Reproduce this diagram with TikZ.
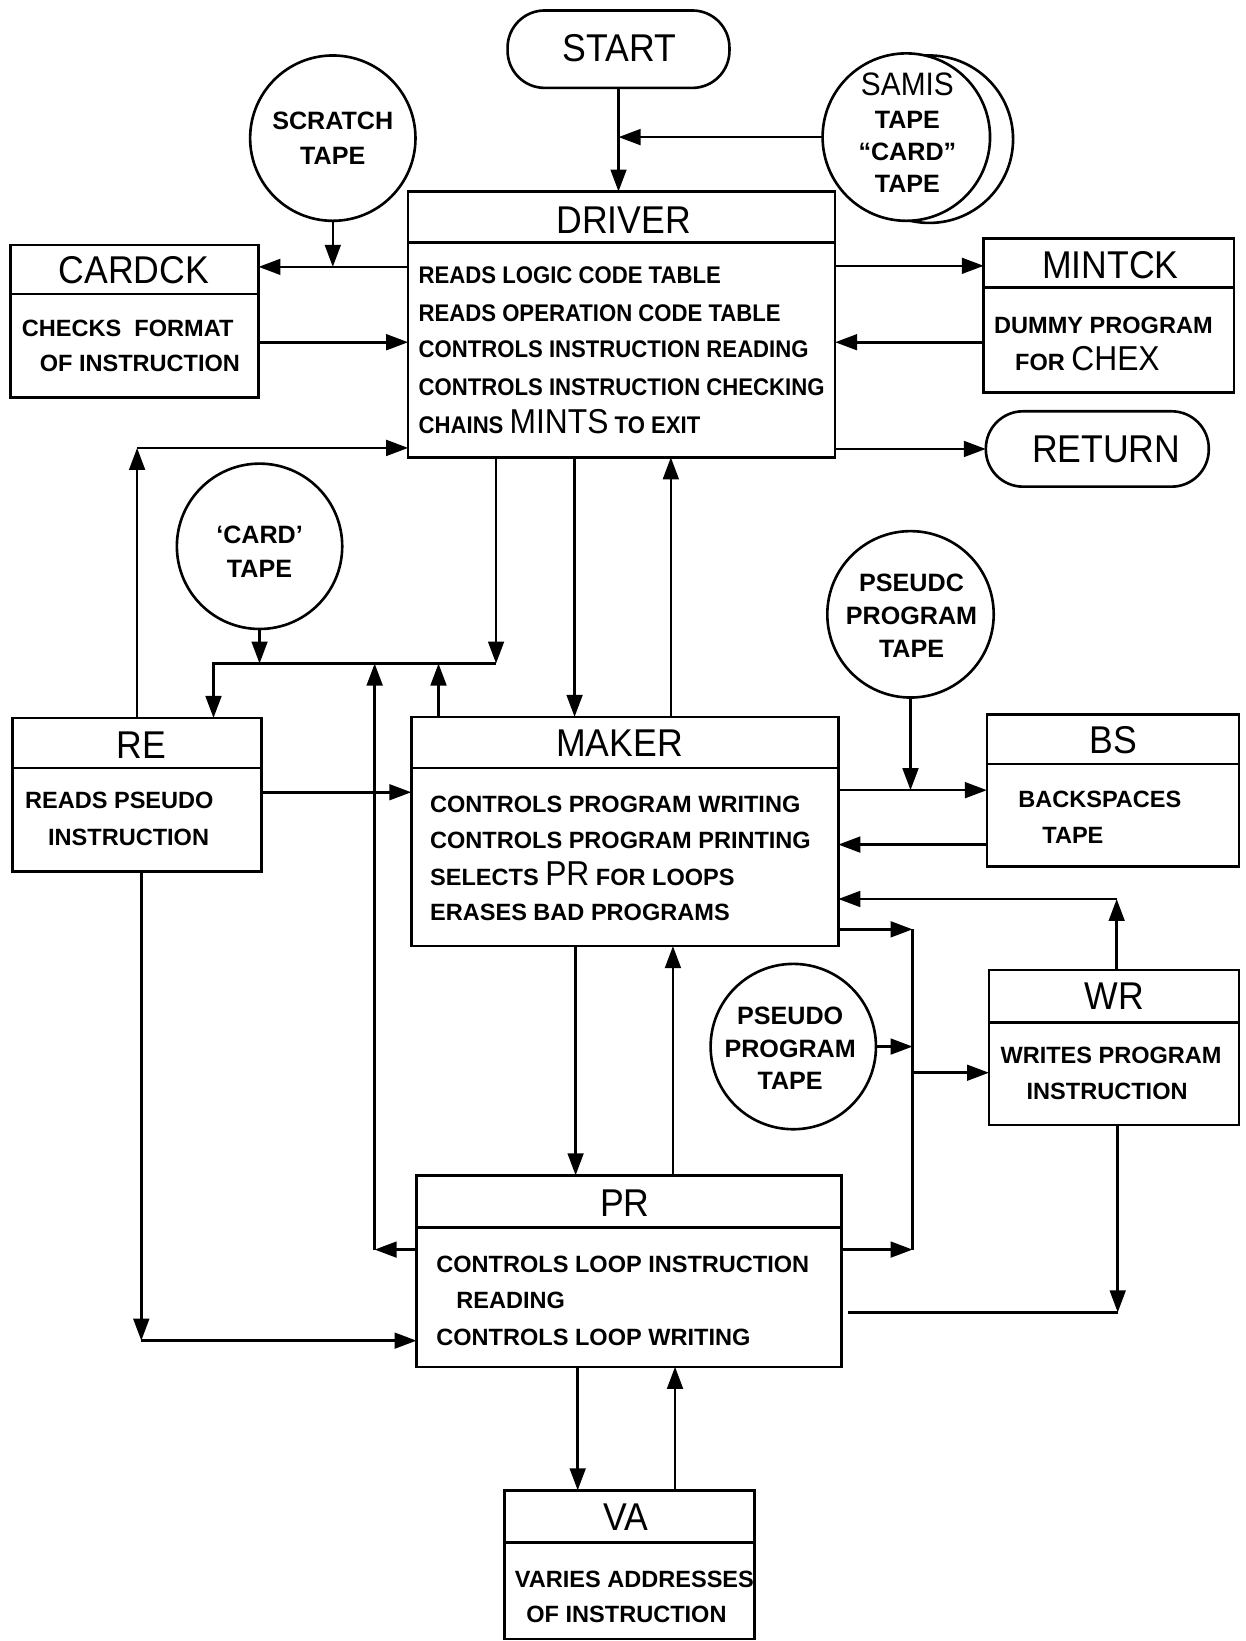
\documentclass[tikz,border=0pt]{standalone}
\usepackage{fontspec}
\setmainfont{Liberation Sans}
\newfontfamily\titlef{Liberation Sans}[FakeStretch=0.92]
\newfontfamily\drvf{Liberation Sans}[FakeStretch=0.92]
\usetikzlibrary{arrows.meta}

\tikzset{
  every node/.style={inner sep=0pt, outer sep=0pt},
  pbox/.style={draw, line width=2.5pt, rectangle},
  term/.style={draw, line width=2.5pt, rectangle, rounded corners=35.5pt},
  tape/.style={draw, line width=2.5pt, circle, fill=white},
  ttl/.style={font=\titlef\fontsize{37}{37}\selectfont},
  bod/.style={font=\bfseries\fontsize{22.5}{22.5}\selectfont, anchor=base west},
  dbod/.style={font=\drvf\bfseries\fontsize{23}{23}\selectfont, anchor=base west},
  ctx/.style={font=\bfseries\fontsize{24}{32}\selectfont, align=center},
  ln/.style={line width=2.5pt},
  arr/.style={line width=2.5pt, -{Triangle[length=21pt,width=15pt]}},
}

\newcommand\procbox[6]{%
  \node[pbox, minimum width={(#4-#2)*1pt}, minimum height={(#5-#3)*1pt}] (#1) at ({(#2+#4)/2},{(#3+#5)/2}) {};
  \draw[ln] (#2,#6) -- (#4,#6);}
\newcommand\bodyline[4]{\node[bod] (#1) at (#2,#3) {#4};}
\newcommand\bigw[1]{{\titlef\mdseries\fontsize{33}{33}\selectfont #1}}

\begin{document}
\begin{tikzpicture}[x=1pt,y=-1pt]
\useasboundingbox (0,0) rectangle (1190,1568);

% ---------- terminals ----------
\node[term, minimum width=212pt, minimum height=74pt] (start) at (591,47) {};
\node[ttl] (startT) at (592,46) {START};
\node[term, minimum width=213pt, minimum height=72pt] (return) at (1048.5,429) {};
\node[ttl] (returnT) at (1057,429) {RETURN};

% ---------- tapes ----------
\node[tape, minimum size=158pt] (scratch) at (318,132) {};
\node[ctx, font=\bfseries\fontsize{24}{33}\selectfont] (scratchT) at (318,132) {SCRATCH\\TAPE};

\node[tape, minimum size=160pt] (samisb) at (888,133) {};
\node[tape, minimum size=160pt] (samis) at (866,131) {};
\node[font=\titlef\fontsize{31}{31}\selectfont] (samisT) at (867,80.5) {SAMIS};
\node[ctx, font=\bfseries\fontsize{24}{30.5}\selectfont] (samisT2) at (867,145) {TAPE\\``CARD''\\TAPE};

\node[tape, minimum size=158pt] (cardtape) at (248,522) {};
\node[ctx] (cardtapeT) at (248,527) {`CARD'\\TAPE};

\node[tape, minimum size=159pt] (pseudc) at (870,587) {};
\node[ctx, font=\bfseries\fontsize{24}{31.5}\selectfont] (pseudcT) at (871,588.5) {PSEUDC\\PROGRAM\\TAPE};

\node[tape, minimum size=158pt] (pseudo) at (758,1000) {};
\node[ctx, font=\bfseries\fontsize{24}{31}\selectfont] (pseudoT) at (755,1002) {PSEUDO\\PROGRAM\\TAPE};

% ---------- process boxes ----------
\procbox{driver}{390}{183}{798}{437}{232}
\node[ttl] (driverT) at (596,210) {DRIVER};
\node[dbod] (d1) at (400,271) {READS LOGIC CODE TABLE};
\node[dbod] (d2) at (400,307) {READS OPERATION CODE TABLE};
\node[dbod] (d3) at (400,342) {CONTROLS INSTRUCTION READING};
\node[dbod] (d4) at (400,378) {CONTROLS INSTRUCTION CHECKING};
\node[dbod] (d5) at (400,414) {CHAINS \bigw{MINTS} TO EXIT};

\procbox{cardck}{10}{234}{247}{380}{281}
\node[ttl] (cardckT) at (128,258) {CARDCK};
\bodyline{c1}{21}{322}{CHECKS \ FORMAT}
\bodyline{c2}{38}{355}{OF INSTRUCTION}

\procbox{mintck}{940}{228}{1179}{375}{275}
\node[ttl] (mintckT) at (1061,253) {MINTCK};
\bodyline{m1}{950}{319}{DUMMY PROGRAM}
\bodyline{m2}{970}{354}{FOR \bigw{CHEX}}

\procbox{re}{12}{686}{250}{833}{734}
\node[ttl] (reT) at (135,712) {RE};
\bodyline{r1}{24}{773}{READS PSEUDO}
\bodyline{r2}{46}{808}{INSTRUCTION}

\procbox{maker}{393}{685}{801}{904}{734}
\node[ttl] (makerT) at (592,710) {MAKER};
\bodyline{k1}{411}{776}{CONTROLS PROGRAM WRITING}
\bodyline{k2}{411}{811}{CONTROLS PROGRAM PRINTING}
\bodyline{k3}{411}{846}{SELECTS \bigw{PR} FOR LOOPS}
\bodyline{k4}{411}{880}{ERASES BAD PROGRAMS}

\procbox{bs}{943}{683}{1184}{828}{730}
\node[ttl] (bsT) at (1064,707.5) {BS};
\bodyline{b1}{973}{772}{BACKSPACES}
\bodyline{b2}{996}{806}{TAPE}

\procbox{wr}{945}{927}{1184}{1075}{977}
\node[ttl] (wrT) at (1065,952) {WR};
\bodyline{w1}{956}{1016}{WRITES PROGRAM}
\bodyline{w2}{981}{1051}{INSTRUCTION}

\procbox{pr}{398}{1123}{804}{1306}{1173}
\node[ttl] (prT) at (597,1150) {PR};
\bodyline{p1}{417}{1216}{CONTROLS LOOP INSTRUCTION}
\bodyline{p2}{436}{1250}{READING}
\bodyline{p3}{417}{1286}{CONTROLS LOOP WRITING}

\procbox{va}{482}{1424}{721}{1566}{1474}
\node[ttl] (vaT) at (598,1450) {VA};
\bodyline{v1}{492}{1517}{VARIES ADDRESSES}
\bodyline{v2}{503}{1550}{OF INSTRUCTION}

% ---------- junction coordinates ----------
\coordinate (kA) at (318,255);
\coordinate (kB) at (318,327);
\coordinate (kC) at (869,254);
\coordinate (kD) at (869,327);
\coordinate (kE) at (131,428);
\coordinate (bus1) at (474,634);
\coordinate (bus2) at (204,634);
\coordinate (bus3) at (419,634);
\coordinate (kF) at (358,1194);
\coordinate (xA) at (549,560);
\coordinate (xB) at (641,560);
\coordinate (kG) at (320,757);
\coordinate (kH) at (135,1281);
\coordinate (kI) at (870,755);
\coordinate (kJ) at (870,807);
\coordinate (kK) at (1067,859);
\coordinate (kL) at (872,888);
\coordinate (kM) at (872,1194);
\coordinate (kN) at (872,1025);
\coordinate (kO) at (1068,1254);
\coordinate (xC) at (550,1010);
\coordinate (xD) at (643,1010);
\coordinate (xE) at (552,1360);
\coordinate (xF) at (645,1360);

% ---------- connectors ----------
\draw[arr] (start.south) -- (start.south |- driver.north);
\draw[arr] (samis.west) -- (start.south |- samis.west);
\draw[arr] (driver.west |- kA) -- (cardck.east |- kA);
\draw[arr] (scratch.south) -- (kA);
\draw[arr] (cardck.east |- kB) -- (driver.west |- kB);
\draw[arr] (driver.east |- kC) -- (mintck.west |- kC);
\draw[arr] (mintck.west |- kD) -- (driver.east |- kD);
\draw[arr] (driver.east |- return.west) -- (return.west);
\draw[arr] (re.north -| kE) -- (kE);
\draw[arr] (kE) -- (driver.west |- kE);
\draw[arr] (driver.south -| bus1) -- (bus1);
\draw[arr] (bus1) -- (bus2) -- (re.north -| bus2);
\draw[arr] (cardtape.south) -- (cardtape.south |- bus1);
\draw[arr] (maker.north -| bus3) -- (bus3);
\draw[arr] (pr.west |- kF) -- (kF);
\draw[arr] (kF) -- (kF |- bus1);
\draw[arr] (driver.south -| xA) -- (maker.north -| xA);
\draw[arr] (maker.north -| xB) -- (driver.south -| xB);
\draw[arr] (re.east |- kG) -- (maker.west |- kG);
\draw[arr] (re.south -| kH) -- (kH);
\draw[arr] (kH) -- (pr.west |- kH);
\draw[arr] (pseudc.south) -- (kI);
\draw[arr] (maker.east |- kI) -- (bs.west |- kI);
\draw[arr] (bs.west |- kJ) -- (maker.east |- kJ);
\draw[arr] (wr.north -| kK) -- (kK);
\draw[arr] (kK) -- (maker.east |- kK);
\draw[arr] (maker.east |- kL) -- (kL);
\draw[ln] (kL) -- (kM);
\draw[arr] (pr.east |- kM) -- (kM);
\draw[arr] (pseudo.east) -- (kL |- pseudo.east);
\draw[arr] (kN) -- (wr.west |- kN);
\draw[arr] (wr.south -| kO) -- (kO);
\draw[ln, shorten >=6pt] (kO) -- (pr.east |- kO);
\draw[arr] (maker.south -| xC) -- (pr.north -| xC);
\draw[arr] (pr.north -| xD) -- (maker.south -| xD);
\draw[arr] (pr.south -| xE) -- (va.north -| xE);
\draw[arr] (va.north -| xF) -- (pr.south -| xF);
\end{tikzpicture}
\end{document}
